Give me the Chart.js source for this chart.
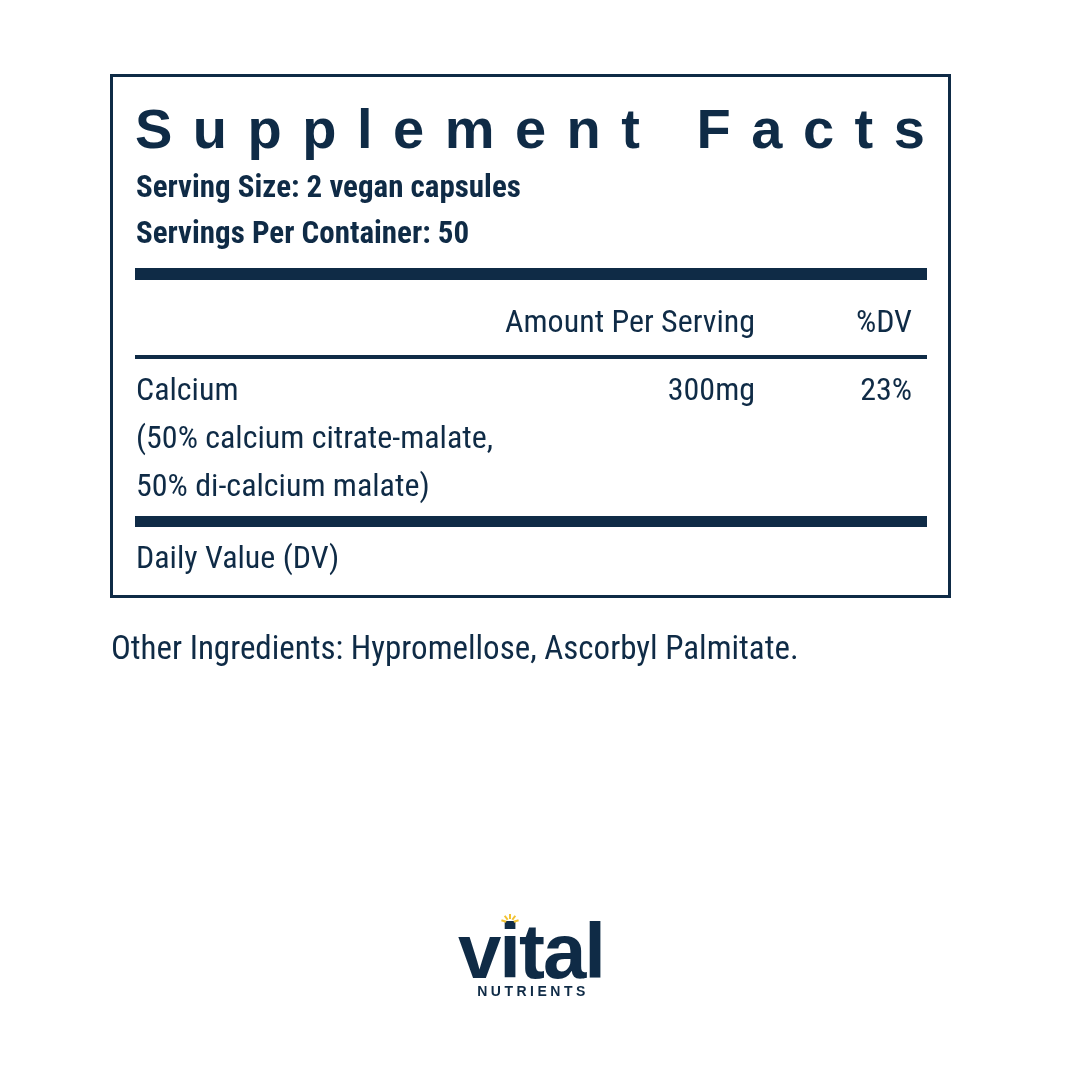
<!DOCTYPE html>
<html>
<head>
<meta charset="utf-8">
<script src="https://cdn.jsdelivr.net/npm/chart.js@4"></script>
<style>
  html, body { margin: 0; padding: 0; background: #fff; }
  #wrap { width: 1080px; height: 1080px; }
</style>
</head>
<body>
<div id="wrap"><canvas id="label" width="1080" height="1080"></canvas></div>
<script>
const INK = '#0f2b46';
const NARROW = '"Liberation Sans Narrow", "Roboto Condensed", "Noto Sans", sans-serif';

const title = 'Supplement Facts';
const servingLines = ['Serving Size: 2 vegan capsules', 'Servings Per Container: 50'];
const columnHeads = ['Amount Per Serving', '%DV'];
const nutrients = ['Calcium'];
const nutrientNotes = [['(50% calcium citrate-malate,', '50% di-calcium malate)']];
const amounts = ['300mg'];
const dailyValues = ['23%'];
const footnote = 'Daily Value (DV)';
const otherIngredients = 'Other Ingredients: Hypromellose, Ascorbyl Palmitate.';

// draws the label panel on the chart canvas
const labelPlugin = {
  id: 'labelPanel',
  afterDraw(chart) {
    const ctx = chart.ctx;
    ctx.save();
    ctx.fillStyle = INK;
    ctx.strokeStyle = INK;

    ctx.lineWidth = 3;
    ctx.strokeRect(111.5, 75.5, 838, 521);

    ctx.textBaseline = 'alphabetic';
    ctx.font = '900 56px "Liberation Sans", Arial, sans-serif';
    ctx.letterSpacing = '20.5px';
    ctx.fillText(title, 135, 148);
    ctx.letterSpacing = '0px';

    ctx.font = 'bold 31px ' + NARROW;
    servingLines.forEach((t, i) => ctx.fillText(t, 136, 197 + i * 46));

    ctx.fillRect(135, 268, 792, 12);

    ctx.font = '32px ' + NARROW;
    ctx.textAlign = 'right';
    ctx.fillText(columnHeads[0], 755, 332);
    ctx.fillText(columnHeads[1], 912, 332);

    ctx.fillRect(135, 355, 792, 4);

    let y = 400;
    nutrients.forEach((n, i) => {
      ctx.textAlign = 'left';
      ctx.fillText(n, 136, y);
      nutrientNotes[i].forEach((note, j) => ctx.fillText(note, 136, y + 48 * (j + 1)));
      ctx.textAlign = 'right';
      ctx.fillText(amounts[i], 755, y);
      ctx.fillText(dailyValues[i], 912, y);
      y += 48 * (nutrientNotes[i].length + 1);
    });

    ctx.fillRect(135, 516, 792, 11);

    ctx.textAlign = 'left';
    ctx.fillText(footnote, 136, 568);
    ctx.font = '33px ' + NARROW;
    ctx.fillText(otherIngredients, 111, 659);

    // logo
    ctx.font = 'bold 78px "Liberation Sans", Arial, sans-serif';
    ctx.letterSpacing = '-2px';
    ctx.textAlign = 'center';
    ctx.fillText('vital', 531, 978);
    ctx.letterSpacing = '3.5px';
    ctx.font = 'bold 14px "Liberation Sans", Arial, sans-serif';
    ctx.fillText('NUTRIENTS', 533, 996);
    ctx.letterSpacing = '0px';

    ctx.strokeStyle = '#f2c230';
    ctx.lineWidth = 2;
    const cx = 510, cy = 923;
    for (let k = 0; k < 5; k++) {
      const a = Math.PI + (k + 0.5) * Math.PI / 5;
      ctx.beginPath();
      ctx.moveTo(cx + Math.cos(a) * 4, cy + Math.sin(a) * 4);
      ctx.lineTo(cx + Math.cos(a) * 9, cy + Math.sin(a) * 9);
      ctx.stroke();
    }
    ctx.restore();
  }
};

new Chart(document.getElementById('label'), {
  type: 'bar',
  data: {
    labels: nutrients,
    datasets: [{ label: 'Amount', data: [], backgroundColor: 'rgba(0,0,0,0)' }]
  },
  options: {
    responsive: false,
    devicePixelRatio: 1,
    animation: false,
    plugins: { legend: { display: false }, tooltip: { enabled: false } },
    scales: { x: { display: false }, y: { display: false } }
  },
  plugins: [labelPlugin]
});
</script>
</body>
</html>
